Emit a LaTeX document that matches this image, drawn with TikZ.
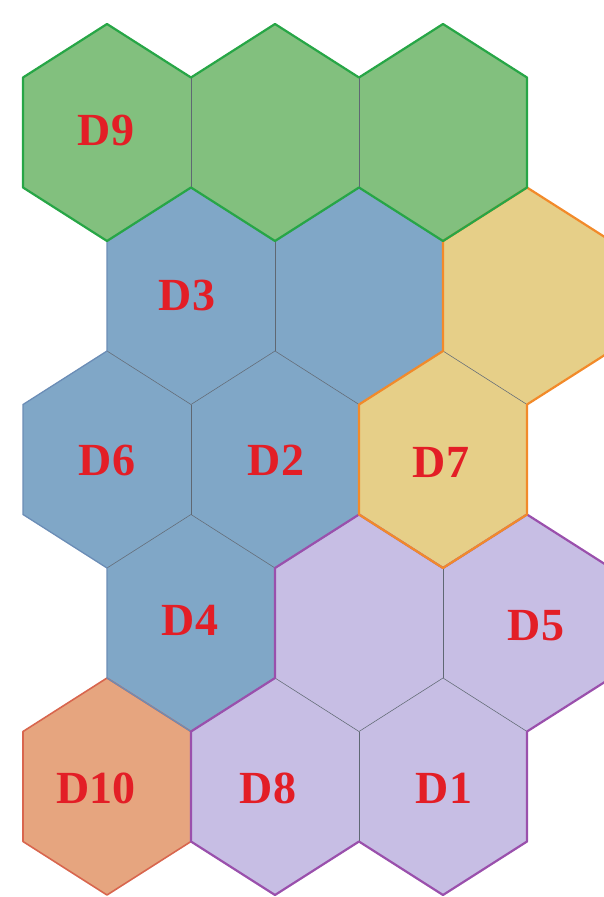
\documentclass[tikz,border=0pt]{standalone}
\usepackage{fontspec}
\setmainfont{Liberation Serif}
\definecolor{gfill}{HTML}{82C07E}
\definecolor{gline}{HTML}{27A646}
\definecolor{bfill}{HTML}{80A7C7}
\definecolor{bline}{HTML}{6B8DB6}
\definecolor{yfill}{HTML}{E6CF88}
\definecolor{yline}{HTML}{F28A2A}
\definecolor{pfill}{HTML}{C7BEE4}
\definecolor{pline}{HTML}{9A50AC}
\definecolor{ofill}{HTML}{E6A57F}
\definecolor{oline}{HTML}{D8664E}
\definecolor{labred}{HTML}{E31E26}
\definecolor{innergray}{HTML}{5F6873}
\begin{document}
\begin{tikzpicture}[x=1pt,y=-1pt,
  lab/.style={anchor=base, font=\bfseries\fontsize{46}{46}\selectfont, text=labred, inner sep=0pt},
  innerline/.style={draw=innergray, line width=0.55pt},
  regline/.style={line width=#1, line join=round},
  regline/.default=2.2pt]
\useasboundingbox (0,0) rectangle (604,897);
\clip (0,0) rectangle (604,897);
\newcommand\hexat[3]{\fill[#3] (#1,#2-108.5) -- (#1+84,#2-55) -- (#1+84,#2+55) -- (#1,#2+108.5) -- (#1-84,#2+55) -- (#1-84,#2-55) -- cycle;}
% fills
\hexat{107}{132.5}{gfill}
\hexat{275}{132.5}{gfill}
\hexat{443}{132.5}{gfill}
\hexat{191}{296}{bfill}
\hexat{359}{296}{bfill}
\hexat{527}{296}{yfill}
\hexat{107}{459.5}{bfill}
\hexat{275}{459.5}{bfill}
\hexat{443}{459.5}{yfill}
\hexat{191}{623}{bfill}
\hexat{359}{623}{pfill}
\hexat{527}{623}{pfill}
\hexat{107}{786.5}{ofill}
\hexat{275}{786.5}{pfill}
\hexat{443}{786.5}{pfill}
% internal edges
\draw[innerline] (191,77.5) -- (191,187.5);
\draw[innerline] (359,77.5) -- (359,187.5);
\draw[innerline] (275,241) -- (275,351);
\draw[innerline] (107,351) -- (191,404.5) -- (275,351) -- (359,404.5);
\draw[innerline] (191,404.5) -- (191,514.5);
\draw[innerline] (107,568) -- (191,514.5) -- (275,568);
\draw[innerline] (443,351) -- (527,404.5);
\draw[innerline] (443,568) -- (443,678);
\draw[innerline] (275,678) -- (359,731.5) -- (443,678) -- (527,731.5);
\draw[innerline] (359,731.5) -- (359,841.5);
% region outlines
\draw[regline=1.6pt, draw=oline] (107,678) -- (191,731.5) -- (191,841.5) -- (107,895) -- (23,841.5) -- (23,731.5) -- cycle;
\draw[regline=1.3pt, draw=bline] (191,187.5) -- (275,241) -- (359,187.5) -- (443,241) -- (443,351) -- (359,404.5) -- (359,514.5) -- (275,568) -- (275,678) -- (191,731.5) -- (107,678) -- (107,568) -- (23,514.5) -- (23,404.5) -- (107,351) -- (107,241) -- cycle;
\draw[regline, draw=pline] (359,514.5) -- (443,568) -- (527,514.5) -- (611,568) -- (611,678) -- (527,731.5) -- (527,841.5) -- (443,895) -- (359,841.5) -- (275,895) -- (191,841.5) -- (191,731.5) -- (275,678) -- (275,568) -- cycle;
\draw[regline, draw=yline] (443,241) -- (527,187.5) -- (611,241) -- (611,351) -- (527,404.5) -- (527,514.5) -- (443,568) -- (359,514.5) -- (359,404.5) -- (443,351) -- cycle;
\draw[regline, draw=gline] (23,77.5) -- (107,24) -- (191,77.5) -- (275,24) -- (359,77.5) -- (443,24) -- (527,77.5) -- (527,187.5) -- (443,241) -- (359,187.5) -- (275,241) -- (191,187.5) -- (107,241) -- (23,187.5) -- cycle;
% labels
\node[lab] (d9) at (106,145) {D9};
\node[lab] (d3) at (187,310) {D3};
\node[lab] (d6) at (107,475) {D6};
\node[lab] (d2) at (276,475) {D2};
\node[lab] (d7) at (441,477) {D7};
\node[lab] (d4) at (190,635) {D4};
\node[lab] (d5) at (536,640) {D5};
\node[lab] (d10) at (96,803) {D10};
\node[lab] (d8) at (268,803) {D8};
\node[lab] (d1) at (444,803) {D1};
\end{tikzpicture}
\end{document}
